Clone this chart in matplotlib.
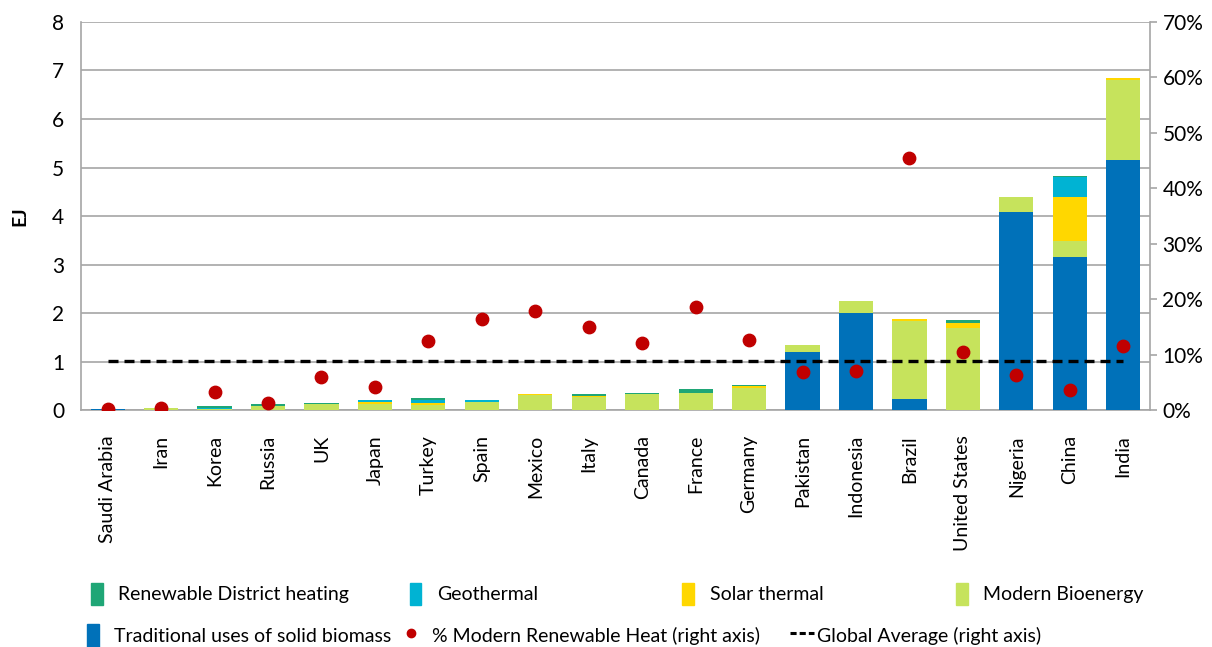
'''
Renewable heat consumption by country, EJ (stacked) with share of modern renewable heat on right axis
'''

import matplotlib
matplotlib.use('Agg')
import matplotlib.pyplot as plt
import matplotlib.patches as mpatches
import matplotlib.lines as mlines
import numpy as np

plt.rcParams['font.family'] = ['Lato', 'DejaVu Sans']
plt.rcParams['font.size'] = 13

countries = ['Saudi Arabia', 'Iran', 'Korea', 'Russia', 'UK', 'Japan', 'Turkey', 'Spain',
             'Mexico', 'Italy', 'Canada', 'France', 'Germany', 'Pakistan', 'Indonesia',
             'Brazil', 'United States', 'Nigeria', 'China', 'India']

# EJ values
traditional = [0.03, 0.00, 0.00, 0.00, 0.00, 0.00, 0.00, 0.00, 0.00, 0.00,
               0.00, 0.00, 0.00, 1.20, 2.00, 0.23, 0.00, 4.08, 3.16, 5.16]
bioenergy = [0.00, 0.04, 0.03, 0.08, 0.12, 0.12, 0.10, 0.17, 0.30, 0.26,
             0.33, 0.35, 0.45, 0.15, 0.25, 1.60, 1.70, 0.32, 0.33, 1.64]
solar = [0.00, 0.00, 0.00, 0.00, 0.00, 0.04, 0.04, 0.00, 0.03, 0.03,
         0.00, 0.00, 0.04, 0.00, 0.00, 0.04, 0.10, 0.00, 0.91, 0.05]
geothermal = [0.00, 0.00, 0.02, 0.00, 0.00, 0.04, 0.07, 0.03, 0.00, 0.00,
              0.00, 0.00, 0.00, 0.00, 0.00, 0.00, 0.00, 0.00, 0.40, 0.00]
district = [0.00, 0.00, 0.04, 0.04, 0.03, 0.00, 0.04, 0.00, 0.00, 0.04,
            0.03, 0.08, 0.03, 0.00, 0.00, 0.00, 0.06, 0.00, 0.03, 0.00]

# % modern renewable heat (right axis)
share = [0.1, 0.3, 3.3, 1.3, 6.0, 4.1, 12.5, 16.5, 17.8, 14.9,
         12.1, 18.5, 12.7, 6.8, 7.1, 45.4, 10.4, 6.4, 3.6, 11.5]
global_avg = 8.9

c_trad = '#0071b9'
c_bio = '#c6e35c'
c_solar = '#ffd700'
c_geo = '#00b3d3'
c_dist = '#1fa676'
c_dot = '#c00000'
grey = '#a6a6a6'

fig = plt.figure(figsize=(12.12, 6.47), dpi=100)
ax = fig.add_axes([0.0668, 0.3663, 0.882, 0.5997])
x = np.arange(len(countries))
w = 0.64

bottom = np.zeros(len(countries))
series = [(traditional, c_trad), (bioenergy, c_bio), (solar, c_solar),
          (geothermal, c_geo), (district, c_dist)]
for vals, col in series:
    vals = np.array(vals)
    ax.bar(x, vals, w, bottom=bottom, color=col, linewidth=0, zorder=3)
    bottom += vals

ax.set_xlim(-0.5, len(countries) - 0.5)
ax.set_ylim(0, 8)
ax.set_yticks(range(0, 9))
ax.grid(axis='y', color=grey, linewidth=1.2, zorder=0)
ax.set_xticks(x)
ax.set_xticklabels(countries, rotation=90)
ax.tick_params(axis='x', length=0, pad=18, labelsize=14)
ax.tick_params(axis='y', length=0, pad=12, labelsize=15)
ax.set_ylabel('EJ', fontweight='bold', fontsize=14, labelpad=17)
for s in ['left', 'bottom', 'right', 'top']:
    ax.spines[s].set_color(grey)
    ax.spines[s].set_linewidth(1.2)
ax.spines['top'].set_visible(False)

ax2 = ax.twinx()
ax2.set_ylim(0, 70)
ax2.set_yticks(range(0, 80, 10))
ax2.set_yticklabels([f'{v}%' for v in range(0, 80, 10)])
ax2.tick_params(axis='y', length=5, color=grey, width=1.2, labelsize=15, pad=4)
for s in ['left', 'bottom', 'right', 'top']:
    ax2.spines[s].set_visible(False)
ax2.plot(x, [global_avg] * len(x), color='black', linestyle=(0, (3, 1.8)), linewidth=2.4, zorder=4)
ax2.scatter(x, share, s=80, color=c_dot, zorder=5)

# legend laid out in slots like the original
entries = [
    (mpatches.Patch(color=c_dist), 'Renewable District heating', 0.075, 0.082),
    (mpatches.Patch(color=c_geo), 'Geothermal', 0.338, 0.082),
    (mpatches.Patch(color=c_solar), 'Solar thermal', 0.563, 0.082),
    (mpatches.Patch(color=c_bio), 'Modern Bioenergy', 0.789, 0.082),
    (mpatches.Patch(color=c_trad), 'Traditional uses of solid biomass', 0.072, 0.018),
    (mlines.Line2D([], [], color=c_dot, marker='o', linestyle='none', markersize=6),
     '% Modern Renewable Heat (right axis)', 0.334, 0.018),
    (mlines.Line2D([], [], color='black', linestyle=(0, (2, 1)), linewidth=2.2),
     'Global Average (right axis)', 0.652, 0.018),
]
for h, lab, lx, ly in entries:
    hl = 1.2 if isinstance(h, mlines.Line2D) and h.get_marker() == 'None' else 0.6
    fig.legend(handles=[h], labels=[lab], loc='center left', bbox_to_anchor=(lx, ly),
               frameon=False, fontsize=14, handlelength=hl, handleheight=1.4,
               handletextpad=0.8 if hl < 1 else 0.2, borderaxespad=0, borderpad=0)

plt.savefig('out.png', dpi=100)
